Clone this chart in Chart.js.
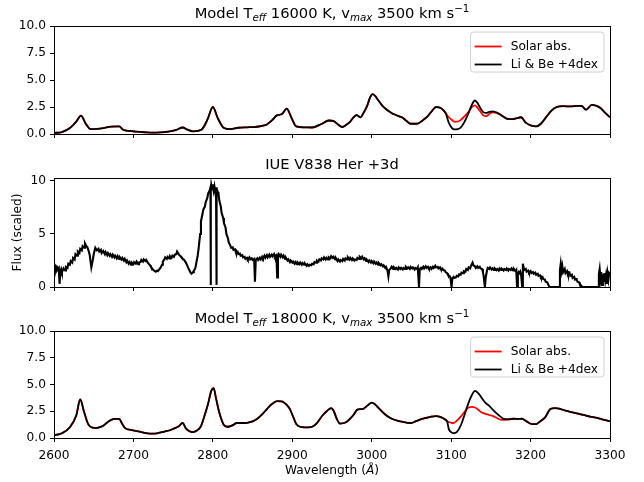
<!DOCTYPE html>
<html><head><meta charset="utf-8">
<script src="https://cdn.jsdelivr.net/npm/chart.js@4.4.0/dist/chart.umd.min.js"></script>
<style>
html,body{margin:0;padding:0;background:#fff;}
#wrap{position:relative;width:644px;height:482px;background:#fff;}
canvas{position:absolute;left:0;top:0;}
</style></head><body>
<div id="wrap">
<canvas id="c1" width="644" height="482"></canvas>
<canvas id="c2" width="644" height="482"></canvas>
<canvas id="c3" width="644" height="482"></canvas>
</div>
<script>
// ---------- DATA ----------
const xTicks = [2600, 2700, 2800, 2900, 3000, 3100, 3200, 3300];
const seriesLabels = ['Solar abs.', 'Li & Be +4dex'];

// Model Teff 16000 K
const wave16 = [
 2600,2610,2620,2628,2634,2640,2646,2654,2662,2672,
 2682,2687,2695,2703,2714,2724,2734,2744,2754,2762,
 2768,2775,2786,2793,2800,2806,2814,2822,2832,2843,
 2853,2862,2868,2875,2880,2887,2893,2899,2905,2915,
 2925,2936,2946,2952,2958,2963,2968,2973,2977,2981,
 2986,2990,2994,2998,3001,3004,3008,3013,3019,3024,
 3029,3034,3038,3044,3049,3057,3064,3070,3076,3081,
 3088,3093,3097,3101,3104,3108,3112,3117,3122,3126,
 3130,3133,3136,3140,3144,3148,3152,3157,3161,3166,
 3171,3177,3182,3188,3194,3200,3207,3213,3220,3226,
 3233,3241,3251,3258,3264,3270,3277,3283,3288,3294,
 3300];
const libe16 = [
 0.10,0.18,0.55,1.15,1.70,0.95,0.45,0.48,0.55,0.68,
 0.70,0.40,0.28,0.22,0.16,0.12,0.15,0.22,0.38,0.60,
 0.40,0.25,0.42,1.30,2.50,1.50,0.55,0.45,0.58,0.62,
 0.65,0.75,0.88,1.30,1.70,1.85,2.35,1.50,0.70,0.62,
 0.60,0.90,1.25,1.20,0.85,0.65,0.85,1.15,1.55,1.75,
 1.55,2.00,2.55,3.40,3.70,3.55,3.15,2.65,2.25,2.00,
 1.80,1.65,1.55,1.20,0.95,0.95,1.25,1.60,2.15,2.50,
 2.35,1.95,1.05,0.55,0.42,0.45,0.60,1.15,1.95,2.70,
 3.10,2.90,2.50,2.05,1.95,2.05,2.10,2.00,1.85,1.60,
 1.40,1.38,1.45,1.55,1.05,0.80,0.70,0.95,1.60,2.15,
 2.50,2.58,2.55,2.60,2.60,2.25,2.70,2.60,2.40,1.95,
 1.55];
const solar16 = [
 0.10,0.18,0.55,1.15,1.70,0.95,0.45,0.48,0.55,0.68,
 0.70,0.40,0.28,0.22,0.16,0.12,0.15,0.22,0.38,0.60,
 0.40,0.25,0.42,1.30,2.50,1.50,0.55,0.45,0.58,0.62,
 0.65,0.75,0.88,1.30,1.70,1.85,2.35,1.50,0.70,0.62,
 0.60,0.90,1.25,1.20,0.85,0.65,0.85,1.15,1.55,1.75,
 1.55,2.00,2.55,3.40,3.70,3.55,3.15,2.65,2.25,2.00,
 1.80,1.65,1.55,1.20,0.95,0.95,1.25,1.60,2.15,2.50,
 2.35,1.95,1.55,1.30,1.15,1.15,1.30,1.65,2.05,2.50,
 2.65,2.45,2.15,1.75,1.65,1.85,2.00,1.95,1.80,1.60,
 1.40,1.38,1.45,1.55,1.05,0.80,0.70,0.95,1.60,2.15,
 2.50,2.58,2.55,2.60,2.60,2.25,2.70,2.60,2.40,1.95,
 1.55];

// Model Teff 18000 K
const wave18 = [
 2600,2610,2620,2628,2633,2638,2643,2651,2657,2662,
 2667,2672,2677,2682,2686,2690,2697,2708,2716,2724,
 2731,2739,2745,2750,2757,2762,2766,2770,2775,2780,
 2785,2790,2794,2798,2801,2804,2808,2814,2819,2825,
 2830,2837,2843,2850,2856,2862,2868,2874,2881,2886,
 2889,2893,2897,2901,2905,2910,2915,2920,2925,2931,
 2938,2944,2949,2952,2956,2960,2967,2972,2977,2982,
 2986,2990,2995,3000,3004,3010,3017,3024,3031,3039,
 3045,3050,3055,3060,3067,3074,3081,3087,3092,3095,
 3097,3100,3103,3107,3112,3117,3122,3126,3130,3134,
 3138,3143,3148,3153,3158,3163,3166,3172,3179,3185,
 3189,3195,3202,3207,3212,3218,3225,3231,3236,3244,
 3251,3260,3267,3275,3282,3290,3300];
const libe18 = [
 0.25,0.45,1.00,2.10,3.60,2.40,1.30,0.95,1.00,1.15,
 1.45,1.70,1.78,1.78,1.30,0.90,0.75,0.60,0.45,0.40,
 0.45,0.60,0.70,0.85,1.10,1.40,0.90,0.65,0.55,0.70,
 1.10,2.20,3.20,4.40,4.65,3.70,2.40,1.20,1.05,1.20,
 1.40,1.40,1.42,1.55,1.80,2.20,2.70,3.15,3.45,3.42,
 3.35,3.10,2.70,2.00,1.30,1.05,1.00,1.00,1.05,1.40,
 2.10,2.55,2.80,2.55,1.80,1.35,1.45,1.75,2.15,2.65,
 2.70,2.75,3.05,3.30,3.15,2.70,2.20,1.85,1.65,1.50,
 1.42,1.40,1.55,1.70,1.85,1.98,2.05,1.95,1.75,1.55,
 0.85,0.55,0.45,0.55,1.15,2.20,3.30,4.00,4.40,4.20,
 3.80,3.30,3.00,2.60,2.25,1.95,1.80,1.75,1.80,1.78,
 1.80,1.55,1.30,1.30,1.55,1.90,2.70,2.80,2.75,2.55,
 2.42,2.28,2.15,2.00,1.90,1.75,1.55];
const solar18 = [
 0.25,0.45,1.00,2.10,3.60,2.40,1.30,0.95,1.00,1.15,
 1.45,1.70,1.78,1.78,1.30,0.90,0.75,0.60,0.45,0.40,
 0.45,0.60,0.70,0.85,1.10,1.40,0.90,0.65,0.55,0.70,
 1.10,2.20,3.20,4.40,4.65,3.70,2.40,1.20,1.05,1.20,
 1.40,1.40,1.42,1.55,1.80,2.20,2.70,3.15,3.45,3.42,
 3.35,3.10,2.70,2.00,1.30,1.05,1.00,1.00,1.05,1.40,
 2.10,2.55,2.80,2.55,1.80,1.35,1.45,1.75,2.15,2.65,
 2.70,2.75,3.05,3.30,3.15,2.70,2.20,1.85,1.65,1.50,
 1.42,1.40,1.55,1.70,1.85,1.98,2.05,1.95,1.75,1.55,
 1.50,1.42,1.40,1.60,2.00,2.45,2.85,2.90,2.85,2.65,
 2.40,2.25,2.15,2.05,1.85,1.70,1.70,1.75,1.80,1.78,
 1.80,1.55,1.30,1.30,1.55,1.90,2.70,2.80,2.75,2.55,
 2.42,2.28,2.15,2.00,1.90,1.75,1.55];

// IUE V838 Her +3d  [wavelength, scaled flux]
const iueSpectrum = [
 [2600,2.0],[2601,1.7],[2602,1.9],[2603,1.6],[2604,1.85],[2605,1.7],[2606,1.8],[2607,0.3],[2608,1.5],[2609,1.7],
 [2610,1.4],[2612,1.75],[2614,1.55],[2615,1.9],[2617,1.8],[2618,2.2],[2620,2.1],[2621,2.45],[2623,2.3],[2624,2.75],
 [2626,2.6],[2627,3.1],[2629,2.95],[2630,3.35],[2632,3.2],[2633,3.6],[2635,3.45],[2636,3.85],[2638,3.7],[2639,4.1],
 [2641,3.8],[2642,3.75],[2644,3.3],[2645,3.0],[2647,1.85],[2649,2.6],[2650,3.1],[2652,3.7],[2654,3.45],[2656,3.6],
 [2657,3.35],[2659,3.5],[2660,3.2],[2662,3.4],[2664,3.1],[2665,3.3],[2667,3.0],[2668,3.2],[2670,2.95],[2671,3.1],
 [2673,2.85],[2674,3.05],[2676,2.8],[2677,2.95],[2679,2.7],[2680,2.9],[2682,2.65],[2683,2.8],[2685,2.6],[2686,2.75],
 [2688,2.5],[2689,2.65],[2691,2.35],[2692,2.5],[2694,2.2],[2695,2.35],[2697,2.1],[2698,2.3],[2700,2.15],[2701,2.35],
 [2703,2.2],[2704,2.4],[2706,2.15],[2707,2.3],[2709,2.35],[2710,2.55],[2712,2.4],[2713,2.6],[2715,2.45],[2716,2.55],
 [2718,2.3],[2719,2.2],[2721,2.05],[2722,1.9],[2724,1.7],[2725,1.6],[2727,1.5],[2728,1.45],[2730,1.55],[2731,1.5],
 [2733,1.7],[2734,1.8],[2736,2.1],[2737,2.4],[2739,2.6],[2740,2.8],[2742,2.65],[2743,2.85],[2745,2.7],[2746,2.9],
 [2748,2.75],[2749,2.95],[2751,2.85],[2752,3.05],[2754,3.1],[2755,3.35],[2757,3.1],[2758,3.0],[2760,2.85],[2761,2.75],
 [2763,2.6],[2764,2.55],[2766,2.3],[2767,2.15],[2769,1.8],[2770,1.65],[2772,1.35],[2773,1.25],[2775,1.4],[2776,1.5],
 [2778,1.8],[2779,2.2],[2781,3.0],[2782,3.6],[2784,5.0],[2785,6.2],[2787,6.9],[2788,7.3],[2790,7.6],[2791,8.0],
 [2793,8.4],[2794,8.8],[2796,9.1],[2797,9.4],[2797.2,0.2],[2797.6,9.0],[2798,9.6],[2799,9.2],[2800,9.7],[2801,9.1],
 [2802,9.5],[2803,9.0],[2804,9.4],[2804.3,0.2],[2804.7,9.2],[2805,9.3],[2806,9.0],[2807,8.9],[2808,8.2],[2810,7.6],
 [2811,7.0],[2813,6.5],[2814,6.0],[2816,5.6],[2817,5.0],[2819,4.6],[2820,4.2],[2822,3.9],[2823,3.7],[2825,3.75],
 [2826,3.5],[2828,3.55],[2829,3.3],[2831,3.35],[2832,3.1],[2834,3.15],[2835,2.95],[2837,3.0],[2838,2.8],[2840,2.85],
 [2841,2.65],[2843,2.75],[2844,2.6],[2846,2.8],[2847,2.6],[2849,2.7],[2850,2.55],[2852,2.65],[2853,0.5],[2854,2.55],
 [2856,2.7],[2857,2.55],[2859,2.75],[2860,2.6],[2862,2.85],[2863,2.7],[2865,2.95],[2866,2.75],[2868,3.0],[2869,2.8],
 [2871,3.05],[2872,2.85],[2874,3.05],[2875,2.9],[2877,3.1],[2878,2.85],[2880,3.0],[2881,0.9],[2882,2.9],[2883,3.1],
 [2885,2.85],[2886,3.05],[2888,2.8],[2889,2.95],[2891,2.65],[2892,2.75],[2894,2.5],[2895,2.6],[2897,2.35],[2898,2.5],
 [2900,2.3],[2901,2.4],[2903,2.2],[2904,2.35],[2906,2.15],[2907,2.3],[2909,2.15],[2910,2.3],[2912,2.1],[2913,2.25],
 [2915,2.1],[2916,2.2],[2918,2.0],[2919,2.15],[2921,2.0],[2922,2.1],[2924,2.05],[2925,2.2],[2927,2.15],[2928,2.35],
 [2930,2.3],[2931,2.5],[2933,2.4],[2934,2.6],[2936,2.5],[2937,2.7],[2939,2.6],[2940,2.8],[2942,2.6],[2943,2.75],
 [2945,2.6],[2946,2.8],[2948,2.7],[2949,2.9],[2951,2.75],[2952,2.85],[2954,2.6],[2955,2.7],[2957,2.45],[2958,2.6],
 [2960,2.4],[2961,2.55],[2963,2.45],[2964,2.65],[2966,2.5],[2967,2.7],[2969,2.6],[2970,2.8],[2972,2.6],[2973,2.75],
 [2975,2.55],[2976,2.7],[2978,2.5],[2979,2.6],[2981,2.55],[2982,2.75],[2984,2.65],[2985,2.85],[2987,2.7],[2988,2.85],
 [2990,2.6],[2991,2.7],[2993,2.45],[2994,2.55],[2996,2.35],[2997,2.5],[2999,2.3],[3000,2.45],[3002,2.25],[3003,2.4],
 [3005,2.2],[3006,2.3],[3008,2.1],[3009,2.25],[3011,2.05],[3012,2.15],[3014,1.95],[3015,2.05],[3017,1.8],[3018,1.9],
 [3020,1.5],[3021,1.0],[3022,1.6],[3024,1.75],[3025,1.9],[3027,1.7],[3028,1.85],[3030,1.7],[3031,1.8],[3033,1.65],
 [3034,1.85],[3036,1.7],[3037,1.8],[3039,1.65],[3040,1.8],[3042,1.7],[3043,1.9],[3045,1.75],[3046,1.85],[3048,1.7],
 [3049,1.9],[3051,1.75],[3052,1.85],[3054,1.65],[3055,1.8],[3057,1.7],[3058,1.85],[3059.5,0.0],[3060.5,1.7],[3062,1.8],
 [3063,1.7],[3065,1.9],[3066,1.75],[3068,1.95],[3069,1.8],[3071,1.9],[3072,1.75],[3074,1.85],[3075,1.7],[3077,1.9],
 [3078,1.8],[3080,2.0],[3081,1.85],[3083,1.9],[3084,1.75],[3086,1.85],[3087,1.7],[3089,1.75],[3090,1.6],[3092,1.55],
 [3093,1.4],[3095,1.3],[3096,1.15],[3098,1.05],[3099,0.9],[3100.5,0.0],[3101.5,0.8],[3103,0.95],[3104,0.85],[3106,0.9],
 [3107,1.05],[3109,1.0],[3110,1.2],[3112,1.15],[3113,1.35],[3115,1.3],[3116,1.5],[3118,1.45],[3119,1.7],[3121,1.6],
 [3122,1.85],[3124,1.75],[3125,2.0],[3127,2.3],[3128,2.05],[3130,1.95],[3131,1.8],[3133,1.95],[3134,1.8],[3136,1.9],
 [3137,1.75],[3139,1.7],[3140,1.4],[3141,1.0],[3142.5,0.0],[3143.5,0.9],[3145,1.5],[3146,1.8],[3148,1.7],[3149,1.85],
 [3151,1.65],[3152,1.75],[3154,1.6],[3155,1.75],[3157,1.6],[3158,1.7],[3160,1.55],[3161,1.75],[3163,1.6],[3164,1.7],
 [3166,1.55],[3167,1.7],[3169,1.6],[3170,1.75],[3172,1.55],[3173,1.7],[3175,1.6],[3176,1.75],[3178,1.55],[3179,1.7],
 [3181,1.5],[3182,1.6],[3183,0.0],[3184,1.2],[3185,1.4],[3186,1.3],[3187,1.45],[3188,1.2],[3189.5,0.0],[3190.3,2.2],
 [3191,1.9],[3192,1.6],[3194,1.7],[3195,1.45],[3197,1.55],[3198,1.35],[3200,1.5],[3201,1.3],[3203,1.4],[3204,1.25],
 [3206,1.35],[3207,1.15],[3209,1.25],[3210,1.05],[3212,1.1],[3213,0.9],[3215,0.95],[3216,0.75],[3218,0.7],[3219,0.5],
 [3221,0.45],[3222,0.25],[3224,0.0],[3236,0.0],[3237,1.6],[3238,2.2],[3239,1.5],[3240,1.95],[3241,1.4],[3243,1.7],
 [3244,1.3],[3246,1.5],[3247,1.2],[3249,1.35],[3250,1.05],[3252,1.15],[3253,0.85],[3255,0.95],[3256,0.7],[3258,0.75],
 [3259,0.5],[3261,0.45],[3262,0.25],[3264,0.1],[3265,0.0],[3285,0.0],[3286,1.2],[3287,1.7],[3288,0.8],[3289,1.4],
 [3290,0.2],[3291,1.2],[3292,0.5],[3293,1.3],[3294,0.6],[3295,1.1],[3296,0.3],[3297,1.25],[3298,0.7],[3299,1.3],
 [3300,1.2]];

// ---------- LAYOUT / STYLE ----------
const FAM = '"DejaVu Sans", sans-serif';
const TICK = 12.2, TITLE = 14.7, SUB = 10.3;
const AREA_LEFT = 54, AREA_RIGHT = 610, H = 482;

function fnt(size, style) { return (style || 'normal') + ' ' + size + 'px ' + FAM; }
function drawRich(ctx, segs, cx, by) {
  let w = 0;
  segs.forEach(s => { ctx.font = fnt(s.size, s.style); s.w = ctx.measureText(s.t).width; w += s.w; });
  let x = cx - w / 2;
  ctx.textAlign = 'left'; ctx.textBaseline = 'alphabetic'; ctx.fillStyle = '#000';
  segs.forEach(s => { ctx.font = fnt(s.size, s.style); ctx.fillText(s.t, x, by + (s.dy || 0)); x += s.w; });
}
function modelTitle(temp) {
  return [
    {t: 'Model T', size: TITLE}, {t: 'eff', size: SUB, style: 'italic', dy: 2.6},
    {t: ' ' + temp + ' K, v', size: TITLE}, {t: 'max', size: SUB, style: 'italic', dy: 2.6},
    {t: ' 3500 km s', size: TITLE}, {t: '\u22121', size: SUB, dy: -6}
  ];
}
function al(v) { return Math.round(v - 0.5) + 0.5; }

const overlay = {
  id: 'overlay',
  afterDraw(chart, args, o) {
    const ctx = chart.ctx, ca = chart.chartArea;
    ctx.save();
    // frame (spines)
    ctx.strokeStyle = '#000'; ctx.lineWidth = 1;
    ctx.strokeRect(al(ca.left), al(ca.top), al(ca.right) - al(ca.left), al(ca.bottom) - al(ca.top));
    const cx = (ca.left + ca.right) / 2;
    if (o.title) drawRich(ctx, o.title, cx, ca.top - o.titleOff);
    if (o.xlabel) drawRich(ctx, o.xlabel, cx, o.xlabelY);
    if (o.ylabel) {
      ctx.save(); ctx.translate(o.ylabelX, (ca.top + ca.bottom) / 2); ctx.rotate(-Math.PI / 2);
      ctx.font = fnt(TICK); ctx.fillStyle = '#000'; ctx.textAlign = 'center'; ctx.textBaseline = 'middle';
      ctx.fillText(o.ylabel, 0, 0); ctx.restore();
    }
    if (o.legend) {
      const ds = chart.data.datasets;
      ctx.font = fnt(TICK);
      let tw = 0; ds.forEach(d => tw = Math.max(tw, ctx.measureText(d.label).width));
      const padL = 4, hl = 27, gap = 9, padR = 6;
      const bw = padL + hl + gap + tw + padR, bh = 40;
      const bx = ca.right - 6 - bw, by = ca.top + 6, r = 3;
      ctx.beginPath();
      ctx.moveTo(bx + r, by); ctx.lineTo(bx + bw - r, by); ctx.arcTo(bx + bw, by, bx + bw, by + r, r);
      ctx.lineTo(bx + bw, by + bh - r); ctx.arcTo(bx + bw, by + bh, bx + bw - r, by + bh, r);
      ctx.lineTo(bx + r, by + bh); ctx.arcTo(bx, by + bh, bx, by + bh - r, r);
      ctx.lineTo(bx, by + r); ctx.arcTo(bx, by, bx + r, by, r); ctx.closePath();
      ctx.fillStyle = 'rgba(255,255,255,0.8)'; ctx.fill();
      ctx.strokeStyle = '#d0d0d0'; ctx.lineWidth = 1; ctx.stroke();
      ds.forEach((d, i) => {
        const yy = by + 14.5 + i * 18;
        ctx.strokeStyle = d.borderColor; ctx.lineWidth = 1.8;
        ctx.beginPath(); ctx.moveTo(bx + padL, yy); ctx.lineTo(bx + padL + hl, yy); ctx.stroke();
        ctx.fillStyle = '#000'; ctx.textAlign = 'left'; ctx.textBaseline = 'middle';
        ctx.fillText(d.label, bx + padL + hl + gap, yy);
      });
    }
    ctx.restore();
  }
};

function xy(w, v) { return w.map((x, i) => ({x: x, y: v[i]})); }

function makeChart(id, datasets, p) {
  return new Chart(document.getElementById(id), {
    type: 'line',
    data: {datasets: datasets},
    options: {
      responsive: false, animation: false, devicePixelRatio: 1,
      layout: {padding: {top: p.top, bottom: H - p.bottom - p.xh, left: 0, right: 644 - AREA_RIGHT}},
      scales: {
        x: {
          type: 'linear', min: xTicks[0], max: xTicks[xTicks.length - 1],
          afterBuildTicks: s => { s.ticks = xTicks.map(v => ({value: v})); },
          ticks: {display: p.xlabels, font: {family: FAM, size: TICK}, color: '#000', padding: 7,
                  maxRotation: 0, autoSkip: false, callback: v => String(v)},
          grid: {drawOnChartArea: false, drawTicks: true, tickLength: 4, color: '#000', lineWidth: 1},
          border: {display: false},
          afterFit: s => { s.height = p.xh; }
        },
        y: {
          min: 0, max: p.ymax,
          afterBuildTicks: s => { s.ticks = p.yticks.map(v => ({value: v})); },
          ticks: {font: {family: FAM, size: TICK}, color: '#000', padding: 4, callback: p.yfmt},
          grid: {drawOnChartArea: false, drawTicks: true, tickLength: 4, color: '#000', lineWidth: 1},
          border: {display: false},
          afterFit: s => { s.width = AREA_LEFT; }
        }
      },
      elements: {point: {radius: 0}},
      plugins: {legend: {display: false}, tooltip: {enabled: false}, overlay: p.overlay}
    },
    plugins: [overlay]
  });
}

function modelSets(w, solar, libe) {
  return [
    {label: seriesLabels[0], data: xy(w, solar), borderColor: '#ff0000', borderWidth: 1.8,
     cubicInterpolationMode: 'monotone', order: 2},
    {label: seriesLabels[1], data: xy(w, libe), borderColor: '#000000', borderWidth: 1.8,
     cubicInterpolationMode: 'monotone', order: 1}
  ];
}

const fmt1 = v => Number(v).toFixed(1);
const modelYTicks = [0, 2.5, 5, 7.5, 10];

makeChart('c1', modelSets(wave16, solar16, libe16), {
  top: 26, bottom: 134, xh: 10, xlabels: false, ymax: 10, yticks: modelYTicks, yfmt: fmt1,
  overlay: {title: modelTitle(16000), titleOff: 8, legend: true}
});

makeChart('c2', [
  {label: 'IUE V838 Her +3d', data: iueSpectrum.map(p => ({x: p[0], y: p[1]})), borderColor: '#000',
   borderWidth: 2.1, tension: 0}
], {
  top: 178, bottom: 287, xh: 10, xlabels: false, ymax: 10.28, yticks: [0, 5, 10], yfmt: v => String(v),
  overlay: {title: [{t: 'IUE V838 Her +3d', size: TITLE}], titleOff: 9, ylabel: 'Flux (scaled)', ylabelX: 18}
});

makeChart('c3', modelSets(wave18, solar18, libe18), {
  top: 331, bottom: 438, xh: 30, xlabels: true, ymax: 10, yticks: modelYTicks, yfmt: fmt1,
  overlay: {title: modelTitle(18000), titleOff: 8, legend: true,
            xlabel: [{t: 'Wavelength (', size: TICK}, {t: '\u00C5', size: TICK, style: 'italic'}, {t: ')', size: TICK}],
            xlabelY: 474}
});
</script>
</body></html>
